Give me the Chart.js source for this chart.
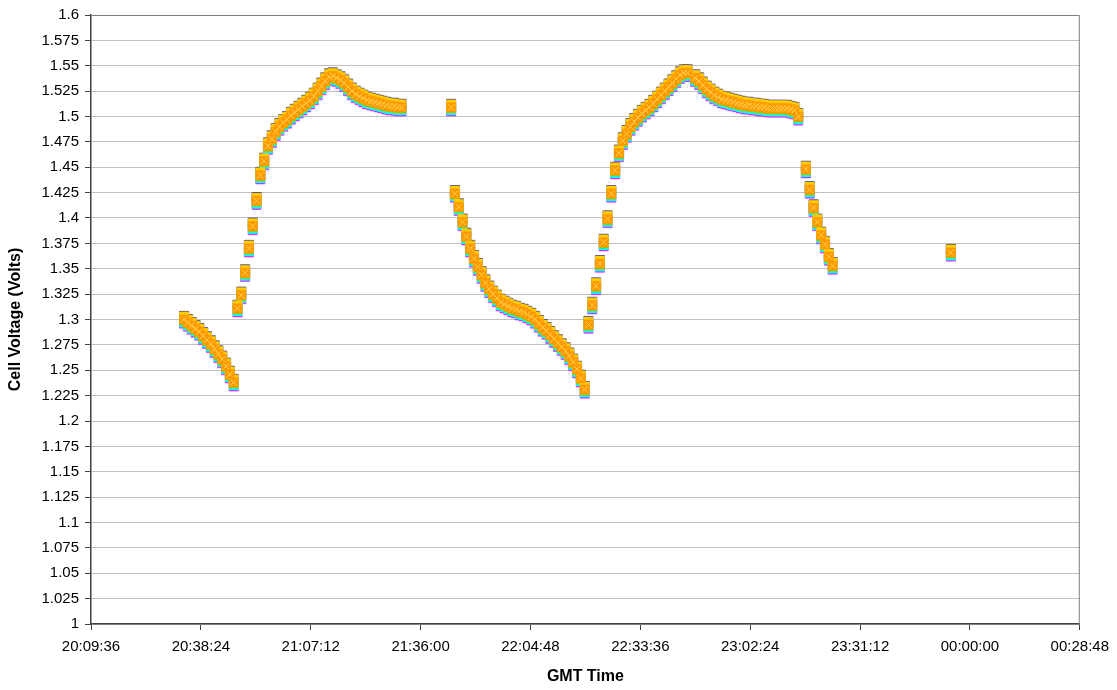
<!DOCTYPE html>
<html>
<head>
<meta charset="utf-8">
<script src="https://cdn.jsdelivr.net/npm/chart.js@4.4.1/dist/chart.umd.min.js"></script>
<style>
  html, body { margin: 0; padding: 0; background: #ffffff; }
  #wrap { width: 1117px; height: 690px; }
</style>
</head>
<body>
<div id="wrap"><canvas id="voltChart"></canvas></div>
<script>
// ---- data (one reading per minute, GMT) ----
const segmentStarts = ['20:34:00', '20:48:00', '21:44:00', '21:45:00', '22:20:00', '23:17:00', '23:55:00'];

const chargeOneDrop = [1.300, 1.297, 1.294, 1.291, 1.288, 1.284, 1.280, 1.276, 1.271, 1.266, 1.261, 1.254, 1.246, 1.238];
const chargeOneRise = [1.311, 1.324, 1.346, 1.370, 1.392, 1.417, 1.442, 1.456, 1.471, 1.478, 1.485, 1.490, 1.494, 1.497,
  1.501, 1.504, 1.507, 1.510, 1.513, 1.516, 1.520, 1.525, 1.530, 1.535, 1.539, 1.540, 1.538, 1.536, 1.533, 1.529,
  1.525, 1.522, 1.520, 1.518, 1.516, 1.515, 1.514, 1.513, 1.512, 1.511, 1.510, 1.510, 1.509, 1.509];
const lonePointA = [1.509];
const dischargeOne = [1.424, 1.411, 1.396, 1.382, 1.370, 1.360, 1.352, 1.344, 1.336, 1.330, 1.325, 1.321, 1.317, 1.315,
  1.313, 1.311, 1.310, 1.308, 1.307, 1.305, 1.303, 1.300, 1.296, 1.292, 1.289, 1.285, 1.281, 1.277, 1.273, 1.269,
  1.264, 1.258, 1.251, 1.242, 1.231];
const chargeTwo = [1.295, 1.314, 1.333, 1.355, 1.376, 1.399, 1.424, 1.447, 1.464, 1.476, 1.483, 1.490, 1.495, 1.499,
  1.503, 1.506, 1.509, 1.513, 1.517, 1.521, 1.525, 1.529, 1.533, 1.537, 1.541, 1.543, 1.543, null, 1.538, 1.535,
  1.531, 1.527, 1.524, 1.521, 1.519, 1.517, 1.516, 1.515, 1.514, 1.513, 1.512, 1.511, 1.511, 1.510, 1.510, 1.509,
  1.509, 1.508, 1.508, 1.508, 1.508, 1.508, 1.508, 1.507, 1.506, 1.500];
const dischargeTwo = [1.448, 1.428, 1.410, 1.396, 1.383, 1.374, 1.362, 1.353];
const lonePointB = [1.366];

const segmentVolts = [chargeOneDrop, chargeOneRise, lonePointA, dischargeOne, chargeTwo, dischargeTwo, lonePointB];

// spread of the individual cells around the pack reading (volts)
const cellNames = ['Cell 7', 'Cell 6', 'Cell 5', 'Cell 4', 'Cell 3', 'Cell 2', 'Cell 1'];
const cellSpread = [0.000, 0.003, -0.001, 0.002, -0.003, -0.004, 0.0035];

// axis range
const timeMin = '20:09:36';
const timeMax = '00:28:48';
const timeStepSec = 1728;
const voltMin = 1.0;
const voltMax = 1.6;
const voltStep = 0.025;

// ---- helpers ----
function toSec(str) {
  const p = str.split(':').map(Number);
  let s = p[0] * 3600 + p[1] * 60 + p[2];
  if (p[0] < 12) s += 86400; // after midnight
  return s;
}

function fmtTime(sec) {
  const s = Math.round(sec) % 86400;
  const h = Math.floor(s / 3600);
  const m = Math.floor((s % 3600) / 60);
  const ss = s % 60;
  return [h, m, ss].map(n => String(n).padStart(2, '0')).join(':');
}

const cellColors = ['#FF9900', '#FFCC00', '#99CC00', '#99CCFF', '#00FFFF', '#FF00FF', '#000080'];

const datasets = cellNames.map((name, i) => {
  const pts = [];
  segmentStarts.forEach((start, j) => {
    const t0 = toSec(start);
    segmentVolts[j].forEach((v, k) => {
      if (v === null) return;
      pts.push({ x: t0 + k * 60, y: +(v + cellSpread[i]).toFixed(4) });
    });
  });
  return {
    label: name,
    data: pts,
    showLine: false,
    pointStyle: 'rect',
    pointRadius: 6.5,
    pointBackgroundColor: cellColors[i],
    pointBorderColor: cellColors[i],
    pointBorderWidth: 0.5
  };
});

// light cross drawn over the top markers
datasets.unshift({
  label: 'Cell 8',
  data: datasets[0].data,
  showLine: false,
  pointStyle: 'crossRot',
  pointRadius: 4.5,
  pointBorderColor: '#FFD24D',
  pointBorderWidth: 1
});

// plot-area frame like the spreadsheet original
const frame = {
  id: 'frame',
  beforeDatasetsDraw(chart) {
    const { ctx, chartArea: a } = chart;
    ctx.save();
    ctx.strokeStyle = '#808080';
    ctx.lineWidth = 1;
    ctx.beginPath();
    ctx.moveTo(a.left, a.top + 0.5);
    ctx.lineTo(a.right - 0.5, a.top + 0.5);
    ctx.lineTo(a.right - 0.5, a.bottom);
    ctx.stroke();
    ctx.restore();
  }
};

new Chart(document.getElementById('voltChart').getContext('2d'), {
  type: 'scatter',
  data: { datasets },
  plugins: [frame],
  options: {
    responsive: true,
    maintainAspectRatio: false,
    animation: false,
    layout: { padding: { top: 14, right: 12, left: 0, bottom: 0 } },
    plugins: {
      legend: { display: false },
      tooltip: { enabled: false }
    },
    scales: {
      x: {
        type: 'linear',
        min: toSec(timeMin),
        max: toSec(timeMax),
        afterFit: s => { s.height = 66; },
        ticks: {
          stepSize: timeStepSec,
          color: '#000',
          font: { family: 'Liberation Sans, Arial, sans-serif', size: 15 },
          padding: 8,
          maxRotation: 0,
          autoSkip: false,
          callback: v => fmtTime(v)
        },
        grid: { drawOnChartArea: false, drawTicks: true, tickLength: 6, color: '#404040' },
        border: { color: '#404040', width: 1.5 },
        title: {
          display: true,
          text: 'GMT Time',
          color: '#000',
          font: { family: 'Liberation Sans, Arial, sans-serif', size: 16, weight: 'bold' },
          padding: { top: 4 }
        }
      },
      y: {
        min: voltMin,
        max: voltMax,
        afterFit: s => { s.width = 91; },
        ticks: {
          stepSize: voltStep,
          color: '#000',
          font: { family: 'Liberation Sans, Arial, sans-serif', size: 15 },
          padding: 6,
          autoSkip: false,
          callback: v => String(+v.toFixed(3))
        },
        grid: { color: '#c0c0c0', tickLength: 6, tickColor: '#404040' },
        border: { color: '#404040', width: 1.5 },
        title: {
          display: true,
          text: 'Cell Voltage (Volts)',
          color: '#000',
          font: { family: 'Liberation Sans, Arial, sans-serif', size: 16, weight: 'bold' },
          padding: { top: 6, bottom: 2 }
        }
      }
    }
  }
});
</script>
</body>
</html>
